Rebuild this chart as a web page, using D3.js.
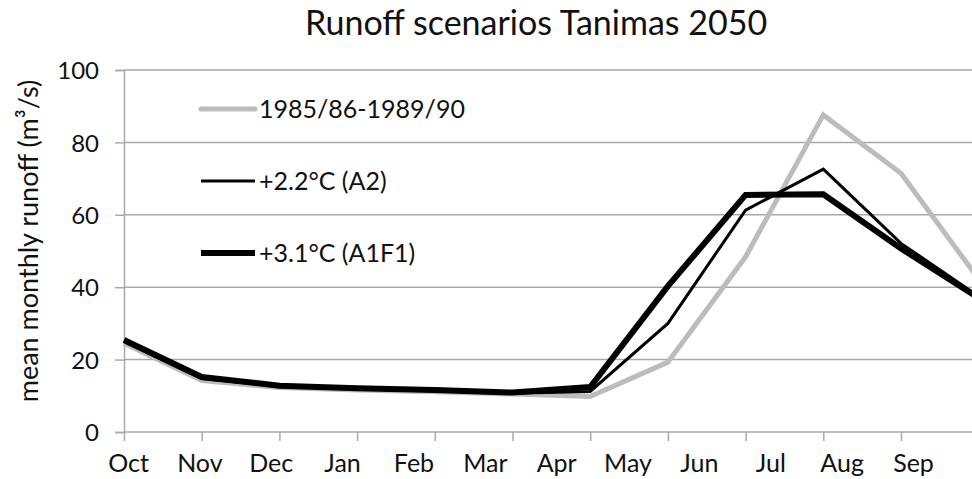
<!DOCTYPE html>
<html>
<head>
<meta charset="utf-8">
<script src="https://cdn.jsdelivr.net/npm/d3@7"></script>
<style>
  body { margin: 0; background: #fff; }
  svg { display: block; font-family: Lato, "Open Sans", sans-serif; }
</style>
</head>
<body>
<svg id="chart" width="972" height="479"></svg>
<script>
// months of the hydrological year (Oct - Sep)
var months = ["Oct", "Nov", "Dec", "Jan", "Feb", "Mar", "Apr", "May", "Jun", "Jul", "Aug", "Sep"];
var yTicks = [0, 20, 40, 60, 80, 100];

// mean monthly runoff, m3/s
var baseline = [24.5, 14.2, 12.3, 11.6, 11.1, 10.5, 9.8, 19.3, 48.4, 87.6, 71.5, 42.2];
var a2 = [25.0, 14.8, 12.6, 11.9, 11.4, 10.7, 11.2, 30.0, 61.3, 72.6, 52.1, 37.5];
var a1f1 = [25.4, 15.2, 12.8, 12.1, 11.6, 10.9, 12.4, 40.3, 65.5, 65.7, 50.7, 37.0];

var seriesNames = ["1985/86-1989/90", "+2.2°C (A2)", "+3.1°C (A1F1)"];
var seriesColors = ["#bcbcbc", "#000", "#000"];
var seriesWidths = [5, 3, 6];
var seriesValues = [baseline, a2, a1f1];

var svg = d3.select("#chart");
var gridColor = "#a9a9a9";

var x = d3.scalePoint().domain(months).range([124, 124 + 11 * 77.7]);
// the month labels in the original sit on their own, tighter spacing
var xLabel = d3.scalePoint().domain(months).range([128, 913]);
var y = d3.scaleLinear().domain([0, 100]).range([432, 70]);

svg.append("text")
  .attr("x", 536).attr("y", 35)
  .attr("text-anchor", "middle")
  .attr("font-size", 34).attr("fill", "#111")
  .text("Runoff scenarios Tanimas 2050");

// gridlines
svg.append("g").selectAll("line").data(yTicks.filter(function(d) { return d > 0; }))
  .enter().append("line")
  .attr("x1", 124).attr("x2", 972)
  .attr("y1", function(d) { return y(d); }).attr("y2", function(d) { return y(d); })
  .attr("stroke", gridColor).attr("stroke-width", 1.5);

// y axis
var yAxis = svg.append("g").attr("transform", "translate(124,0)")
  .call(d3.axisLeft(y).tickValues(yTicks).tickSize(9).tickPadding(16));
yAxis.select(".domain").attr("stroke", gridColor).attr("stroke-width", 1.5);
yAxis.selectAll(".tick line").attr("stroke", gridColor).attr("stroke-width", 1.5);
yAxis.selectAll(".tick text").attr("font-size", 24).attr("fill", "#111")
  .attr("font-family", "Lato, sans-serif").attr("dy", "0.36em");

// x axis: ticks on the data points
var xAxis = svg.append("g").attr("transform", "translate(0,432)")
  .call(d3.axisBottom(x).tickSize(9).tickSizeOuter(0).tickFormat(""));
xAxis.select(".domain").attr("d", "M124,0H972").attr("stroke", gridColor).attr("stroke-width", 1.5);
xAxis.selectAll(".tick line").attr("stroke", gridColor).attr("stroke-width", 1.5);

var xLabels = svg.append("g").attr("transform", "translate(0,432)")
  .call(d3.axisBottom(xLabel).tickSize(0).tickPadding(24));
xLabels.select(".domain").remove();
xLabels.selectAll(".tick text").attr("font-size", 25).attr("fill", "#111")
  .attr("font-family", "Lato, sans-serif").attr("dy", "0.65em");

svg.append("text")
  .attr("transform", "translate(38,241) rotate(-90)")
  .attr("text-anchor", "middle")
  .attr("font-size", 27).attr("fill", "#111")
  .text("mean monthly runoff (m³/s)");

// lines
var line = d3.line()
  .x(function(d, i) { return x(months[i]); })
  .y(function(d) { return y(d); });

svg.append("g").selectAll("path").data(seriesValues)
  .enter().append("path")
  .attr("d", line)
  .attr("fill", "none")
  .attr("stroke", function(d, i) { return seriesColors[i]; })
  .attr("stroke-width", function(d, i) { return seriesWidths[i]; })
  .attr("stroke-linejoin", "miter");

// legend
var legendY = [109, 181, 253];
var legend = svg.append("g").selectAll("g").data(seriesNames)
  .enter().append("g")
  .attr("transform", function(d, i) { return "translate(201," + legendY[i] + ")"; });
legend.append("line")
  .attr("x1", 0).attr("x2", 54)
  .attr("stroke", function(d, i) { return seriesColors[i]; })
  .attr("stroke-width", function(d, i) { return seriesWidths[i]; })
  .attr("stroke-linecap", function(d, i) { return i == 0 ? "round" : "butt"; });
legend.append("text")
  .attr("x", 58).attr("dy", "0.36em")
  .attr("font-size", 25).attr("fill", "#111")
  .text(function(d) { return d; });
</script>
</body>
</html>
